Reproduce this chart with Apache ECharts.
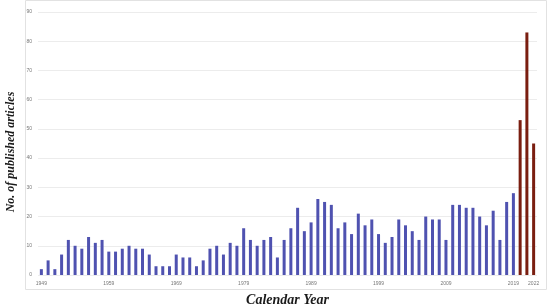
<!DOCTYPE html>
<html lang="en">
<head>
  <meta charset="UTF-8">
  <title>Published articles per year</title>
  <script src="https://cdn.jsdelivr.net/npm/echarts@6/dist/echarts.min.js"></script>
  <style>
    html, body { margin: 0; padding: 0; background: #fff; }
  </style>
</head>
<body>
  <div id="chart" style="width:550px;height:307px;"></div>

  <script>
    // 1949 .. 2022
    var years = [];
    for (var y = 1949; y <= 2022; y++) years.push(String(y));

    var articles = [
      2, 5, 2, 7, 12, 10, 9, 13, 11, 12,
      8, 8, 9, 10, 9, 9, 7, 3, 3, 3,
      7, 6, 6, 3, 5, 9, 10, 7, 11, 10,
      16, 12, 10, 12, 13, 6, 12, 16, 23, 15,
      18, 26, 25, 24, 16, 18, 14, 21, 17, 19,
      14, 11, 13, 19, 17, 15, 12, 20, 19, 19,
      12, 24, 24, 23, 23, 20, 17, 22, 12, 25,
      28, 53, 83, 45
    ];

    // recent years drawn in dark red
    var recentYears = ['2020', '2021', '2022'];

    var myChart = echarts.init(document.getElementById('chart'));

    var options = {
      animation: false,
      grid: {left: 38, right: 13, top: 12, bottom: 32, containLabel: false, outerBoundsMode: 'none'},
      graphic: [
        {
          type: 'rect',
          shape: {x: 25.5, y: 0.5, width: 521, height: 289},
          style: {fill: 'none', stroke: '#e2e2e2', lineWidth: 1},
          silent: true
        },
        {
          // y axis title
          type: 'text',
          x: 11,
          y: 152,
          rotation: Math.PI / 2,
          style: {
            text: 'No. of published articles',
            align: 'center',
            verticalAlign: 'middle',
            fill: '#1a1a1a',
            fontFamily: 'Liberation Serif',
            fontStyle: 'italic',
            fontWeight: 'bold',
            fontSize: 12
          }
        }
      ],
      xAxis: {
        type: 'category',
        data: years,
        name: 'Calendar Year',
        nameLocation: 'middle',
        nameGap: 18,
        nameTextStyle: {
          fontFamily: 'Liberation Serif',
          fontStyle: 'italic',
          fontWeight: 'bold',
          fontSize: 14,
          color: '#1a1a1a'
        },
        axisLine: {show: false},
        axisTick: {show: false},
        axisLabel: {
          fontSize: 5,
          color: '#777',
          margin: 6,
          interval: function (i) {
            return i % 10 === 0 || i === years.length - 1;
          }
        }
      },
      yAxis: {
        type: 'value',
        min: 0,
        max: 90,
        interval: 10,
        axisLabel: {fontSize: 5, color: '#777', margin: 6},
        splitLine: {lineStyle: {color: '#ececec'}}
      },
      series: [
        {
          type: 'bar',
          data: articles,
          barWidth: 3,
          itemStyle: {
            color: function (p) {
              return recentYears.indexOf(p.name) >= 0 ? '#7a1e10' : '#4f52b0';
            }
          }
        }
      ]
    };

    myChart.setOption(options);
  </script>
</body>
</html>
